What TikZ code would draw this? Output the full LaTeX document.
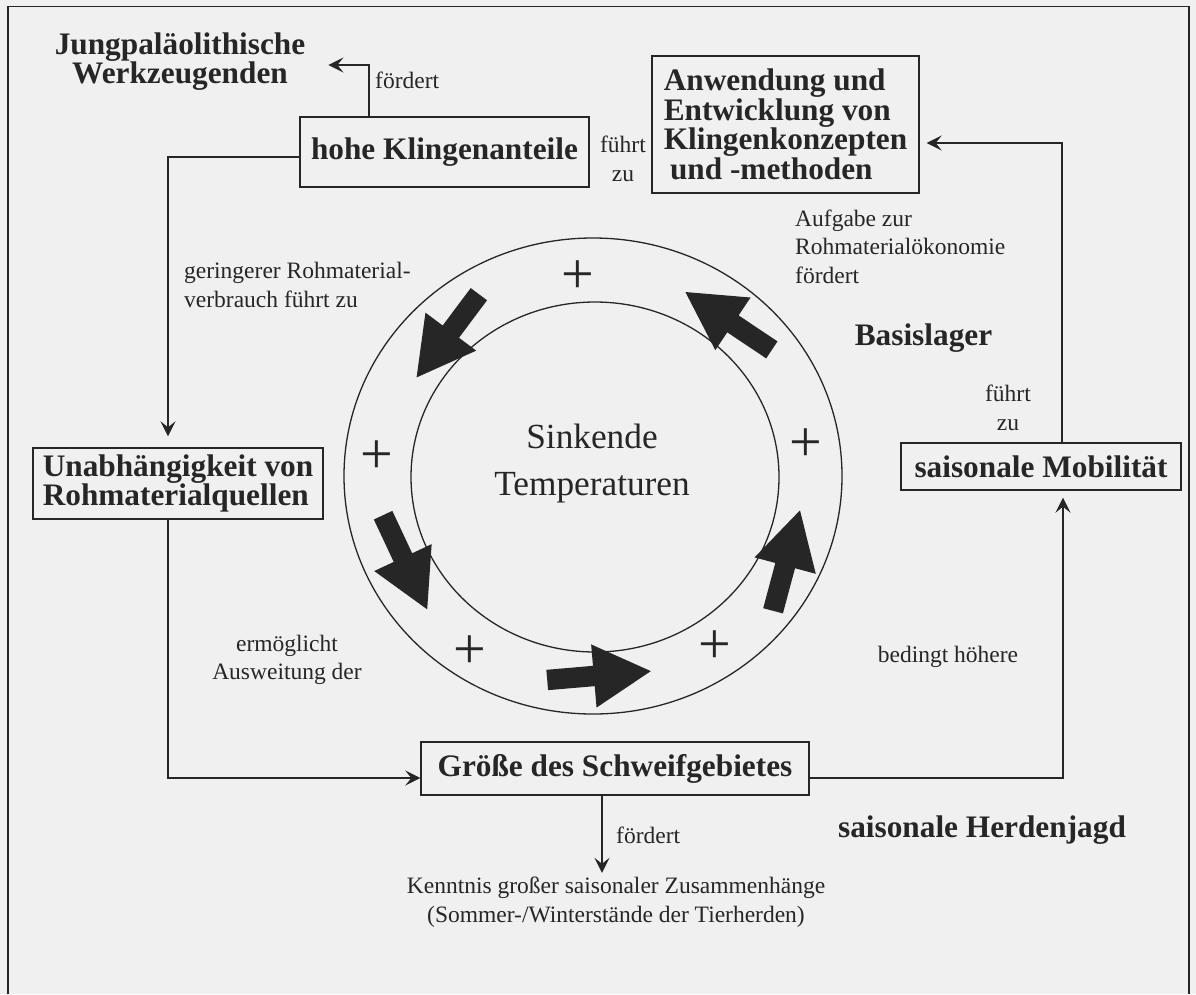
\documentclass[tikz,border=0pt]{standalone}
\usepackage{fontspec}
\setmainfont{Liberation Serif}
\usetikzlibrary{arrows.meta,shapes.arrows}
\definecolor{ink}{RGB}{38,38,38}
\definecolor{paper}{RGB}{240,240,240}
\begin{document}
\begin{tikzpicture}[
    x=1pt, y=-1pt,
    every node/.style={text=ink, inner sep=0pt},
    box/.style={draw=ink, line width=1.4pt, font=\fontsize{31.3}{28}\bfseries, align=left},
    heading/.style={font=\fontsize{31.3}{28}\bfseries, align=center},
    lbl/.style={font=\fontsize{23.5}{28.5}\selectfont},
    conn/.style={draw=ink, line width=1.3pt, -{Stealth[length=15pt,width=15pt,inset=6pt]}},
    plus/.style={font=\fontsize{58}{58}\selectfont},
    flow/.style={single arrow, fill=ink, inner xsep=0pt, inner ysep=10pt, minimum width=63pt,
        minimum height=104pt, single arrow head extend=21.5pt, single arrow tip angle=58, anchor=tail}
]
\fill[paper] (0,0) rectangle (1196,994);
\useasboundingbox (0,0) rectangle (1196,994);
\draw[ink, line width=1.6pt] (8,994) -- (8,6.5) -- (1189,6.5) -- (1189,994);

\draw[ink, line width=1.3pt] (593,476) ellipse [x radius=249, y radius=238];
\draw[ink, line width=1.3pt] (595,477) ellipse [x radius=184, y radius=175];
\node[font=\fontsize{35.3}{47}\selectfont, align=center] (temp) at (592,463.5) {Sinkende\\Temperaturen};
\foreach \px/\py [count=\i] in {578/277, 377/457, 806/445, 470/652, 715/647}
    \node[plus] (plus\i) at (\px,\py) {+};
\foreach \tx/\ty/\ang [count=\i] in {479/294/233.2, 383/515/295.1, 547/680/4.9, 773/611/75, 772/350/146.2}
    \node[flow, rotate=\ang] (flow\i) at (\tx,\ty) {};

\node[heading] (jung) at (180,61.5) {Jungpaläolithische\\Werkzeugenden};
\node[box, minimum width=289pt, minimum height=70pt] (hohe) at (444.5,152) {hohe Klingenanteile};
\node[box, minimum width=267pt, minimum height=137pt] (anw) at (785.5,124.5)
    {Anwendung und\\Entwicklung von\\Klingenkonzepten\\\hspace*{0.2em}und -methoden};
\node[box, minimum width=290pt, minimum height=71pt] (unab) at (178,483.5) {Unabhängigkeit von\\Rohmaterialquellen};
\node[box, minimum width=280pt, minimum height=47pt] (mobil) at (1041,466.5) {saisonale Mobilität};
\node[box, minimum width=388pt, minimum height=53pt] (groesse) at (615,768.5) {Größe des Schweifgebietes};
\node[heading] (basis) at (923.5,338) {Basislager};
\node[heading] (herd) at (982,830) {saisonale Herdenjagd};

\node[lbl, anchor=west] (foerdert1) at (375,80) {fördert};
\node[lbl, align=center] (fuehrt1) at (623,159) {führt\\zu};
\node[lbl, anchor=west, align=left] (verbrauch) at (184,285) {geringerer Rohmaterial-\\verbrauch führt zu};
\node[lbl, anchor=west, align=left] (aufgabe) at (795,246.5) {Aufgabe zur\\Rohmaterialökonomie\\fördert};
\node[lbl, align=center] (fuehrt2) at (1008,408) {führt\\zu};
\node[lbl, align=center] (ausweitung) at (287,660) {ermöglicht\\Ausweitung der};
\node[lbl] (bedingt) at (948,656.5) {bedingt höhere};
\node[lbl, anchor=west] (foerdert2) at (616,835) {fördert};
\node[lbl, align=center] (kenn) at (616,902) {Kenntnis großer saisonaler Zusammenhänge\\(Sommer-/Winterstände der Tierherden)};

\draw[conn] ([xshift=-75.5pt]hohe.north) |- ([xshift=23pt,yshift=-3.5pt]jung.east);
\draw[conn, shorten >=11pt] ([yshift=-5pt]hohe.west) -| ([xshift=-10pt]unab.north);
\draw[conn] ([xshift=-10pt]unab.south) |- ([yshift=-9.5pt]groesse.west);
\draw[conn, shorten >=7pt] ([yshift=-9.5pt]groesse.east) -| ([xshift=22pt]mobil.south);
\draw[conn, shorten >=7pt] ([xshift=21pt]mobil.north) |- ([yshift=-18.5pt]anw.east);
\draw[conn] ([xshift=-13pt]groesse.south) -- ([xshift=-14pt,yshift=4pt]kenn.north);
\end{tikzpicture}
\end{document}
